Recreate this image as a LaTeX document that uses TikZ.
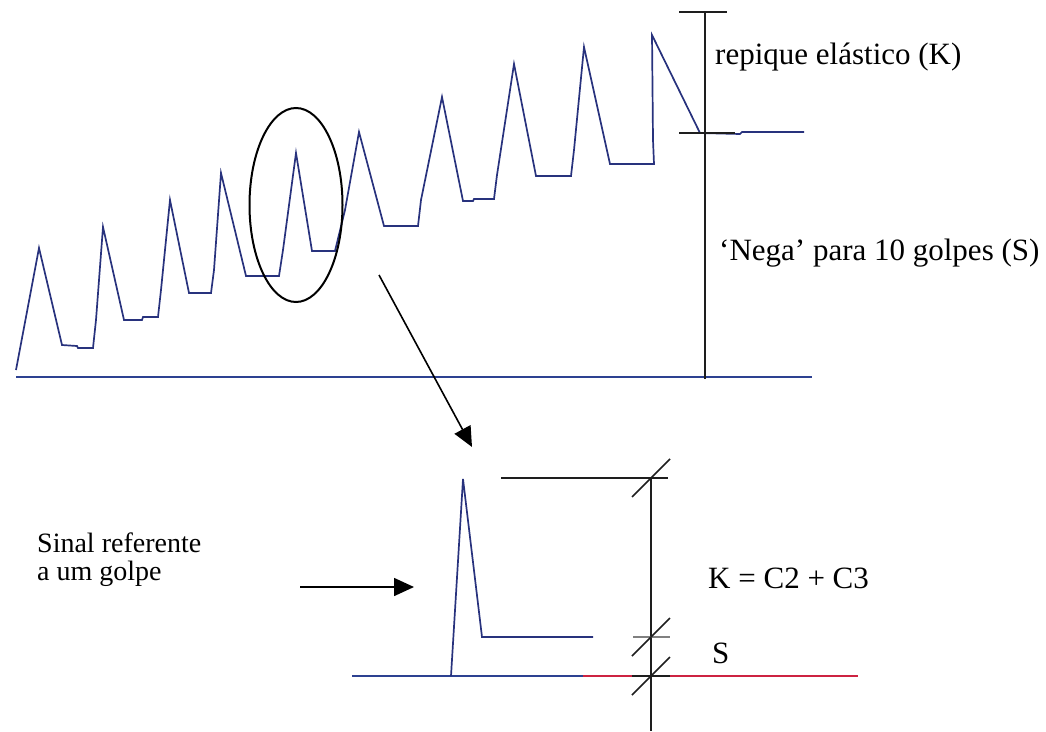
\documentclass[tikz,border=0pt]{standalone}
\usepackage{fontspec}
\setmainfont{Liberation Serif}
\usetikzlibrary{arrows.meta}
\definecolor{wave}{RGB}{40,50,125}
\definecolor{base}{RGB}{45,65,145}
\definecolor{redline}{RGB}{205,35,65}
\definecolor{axis}{RGB}{30,30,30}
\tikzset{
  signal/.style={draw=wave, line width=1.7pt, line join=miter},
  baseline/.style={draw=base, line width=1.8pt},
  axisline/.style={draw=axis, line width=1.5pt},
  tickslash/.style={draw=axis, line width=1.6pt},
  label/.style={inner sep=0pt, anchor=base west, font=\fontsize{31}{34}\selectfont},
  pointer/.style={draw=black, line width=1.6pt, -{Triangle[length=20pt,width=18pt]}}
}
\begin{document}
\begin{tikzpicture}[x=1pt,y=-1pt]
\useasboundingbox (0,0) rectangle (1046,731);
% ---------- top diagram ----------
\draw[baseline] (16,377) -- (812,377);
\draw[signal] (16,370) -- (39,248) -- (62,345) -- (77,346) -- (78,348) -- (93,348)
  -- (96,320) -- (103,227) -- (124,320) -- (142,320) -- (143,317) -- (158,317)
  -- (161,290) -- (170,200) -- (189,293) -- (211,293) -- (214,270) -- (221,173)
  -- (246,276) -- (279,276) -- (283,250) -- (296,153) -- (312,251) -- (335,251)
  -- (345,210) -- (359,132) -- (384,226) -- (418,226) -- (421,200) -- (442,97)
  -- (463,201) -- (473,201) -- (474,199) -- (494,199) -- (497,175) -- (514,64)
  -- (536,176) -- (571,176) -- (574,150) -- (584,47) -- (610,164) -- (654,164)
  -- (653,140) -- (652,35) -- (700,133) -- (740,134) -- (742,132) -- (804,132);
% axis
\draw[axisline] (705,12) -- (705,379);
\draw[axisline] (679,12) -- (727,12);
\draw[axisline] (679,133) -- (735,133);
% ellipse
\draw[draw=black, line width=2pt] (296,205) ellipse [x radius=46.5pt, y radius=97pt];
\node[label] (k) at (715,64) {repique elástico (K)};
\node[label] (s) at (719,260) {‘Nega’ para 10 golpes (S)};
% pointer arrow
\coordinate (pa) at (379,275);
\coordinate (pb) at (472,447);
\draw[pointer] (pa) -- (pb);
% ---------- bottom diagram ----------
\draw[baseline] (352,676) -- (583,676);
\draw[draw=redline, line width=1.8pt] (583,676) -- (858,676);
\draw[signal] (451,676) -- (463,479) -- (482,637) -- (593,637);
\draw[axisline] (501,478) -- (668,478);
\draw[axisline] (651,478) -- (651,731);
\draw[draw=gray, line width=1.5pt] (633,637) -- (670,637);
\draw[axisline] (632,676) -- (670,676);
\draw[tickslash] (632,497) -- (670,459);
\draw[tickslash] (632,656) -- (670,618);
\draw[tickslash] (632,695) -- (670,657);
\node[label] (kc) at (708,588) {K = C2 + C3};
\node[label] (sb) at (712,663) {S};
\node[label, font=\fontsize{28}{28}\selectfont] (sr1) at (37,552) {Sinal referente};
\node[label, font=\fontsize{28}{28}\selectfont] (sr2) at (37,580) {a um golpe};
\coordinate (ha) at (300,587);
\coordinate (hb) at (414,587);
\draw[pointer] (ha) -- (hb);
\end{tikzpicture}
\end{document}
